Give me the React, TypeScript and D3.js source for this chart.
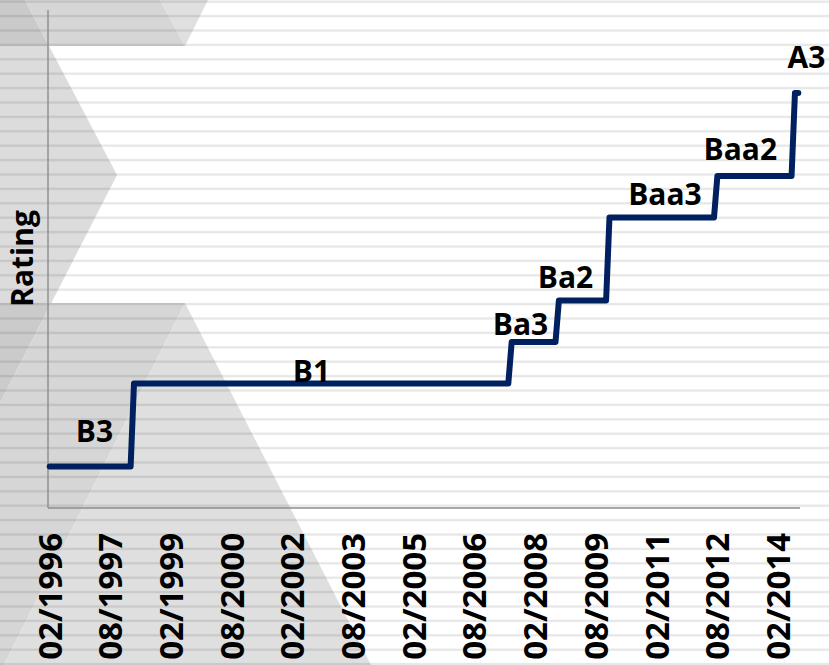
import React from "react";
import * as d3 from "d3";

const WIDTH = 829;
const HEIGHT = 665;

// Moody's long-term scale, lowest notch first
const ratingScale = ["B3", "B2", "B1", "Ba3", "Ba2", "Ba1", "Baa3", "Baa2", "Baa1", "A3"];

// Rating actions: month each rating took effect
const actionMonths = ["02/1996", "03/1998", "07/2007", "09/2008", "12/2009", "08/2012", "07/2014"];
const actionRatings = ["B3", "B1", "Ba3", "Ba2", "Baa3", "Baa2", "A3"];

const firstMonth = "02/1996";
const lastMonth = "08/2014";

const tickLabels = [
  "02/1996", "08/1997", "02/1999", "08/2000", "02/2002", "08/2003", "02/2005",
  "08/2006", "02/2008", "08/2009", "02/2011", "08/2012", "02/2014",
];

// Label placement relative to the first point of each rating level (px)
const labelOffsets: [number, number][] = [
  [44.8, -24.5], [177.5, -1.5], [8.8, -7], [6.6, -12.5], [55.5, -12.5], [23, -16], [11.5, -25],
];

const parseMonth = d3.timeParse("%m/%Y");
const fmtMonth = d3.timeFormat("%m/%Y");

const months = d3
  .timeMonth.range(parseMonth(firstMonth)!, d3.timeMonth.offset(parseMonth(lastMonth)!, 1))
  .map((d) => fmtMonth(d));

const notchOf = (r: string) => ratingScale.indexOf(r) + 1;

// Monthly series: each month carries the rating in force at that time
const series = months.map((m) => {
  const t = parseMonth(m)!.getTime();
  let r = actionRatings[0];
  actionMonths.forEach((am, i) => {
    if (parseMonth(am)!.getTime() <= t) r = actionRatings[i];
  });
  return { month: m, notch: notchOf(r) };
});

const plot = { left: 48, right: 800, top: 10, bottom: 508 };

const x = d3.scaleBand<string>().domain(months).range([plot.left, plot.right]).padding(0);
const xc = (m: string) => (x(m) ?? 0) + x.bandwidth() / 2;
const y = d3.scaleLinear().domain([0, 12]).range([plot.bottom, plot.top]);

const linePath = d3
  .line<{ month: string; notch: number }>()
  .x((d) => xc(d.month))
  .y((d) => y(d.notch))(series) as string;

const FONT = "'Open Sans', 'DejaVu Sans', sans-serif";

// Decorative backdrop: flat grey facets with thin horizontal rules
const facets: { pts: [number, number][]; fill: string }[] = [
  { pts: [[0, 46], [49, 46], [117, 175], [51.3, 303], [0, 303]], fill: "#dcdcdc" },
  { pts: [[0, 0], [25, 0], [49, 46], [0, 46]], fill: "#cacaca" },
  { pts: [[25, 0], [160, 0], [185, 46], [49, 46]], fill: "#d6d6d6" },
  { pts: [[160, 0], [208, 0], [185, 46]], fill: "#e0e0e0" },
  { pts: [[0, 303], [51.3, 303], [0, 403]], fill: "#cbcbcb" },
  { pts: [[51.3, 303], [185, 303], [4, 665], [0, 665], [0, 403]], fill: "#d6d6d6" },
  { pts: [[185, 303], [371, 665], [4, 665]], fill: "#dfdfdf" },
];

const rules = d3.range(0, 47).map((k) => 1.7 + k * 14.4);

export default function App() {
  return (
    <svg
      width={WIDTH}
      height={HEIGHT}
      viewBox={`0 0 ${WIDTH} ${HEIGHT}`}
      style={{ position: "fixed", left: 0, top: 0, display: "block" }}
    >
      <rect x={0} y={0} width={WIDTH} height={HEIGHT} fill="#ffffff" />
      {facets.map((f, i) => (
        <polygon key={i} points={f.pts.map((p) => p.join(",")).join(" ")} fill={f.fill} />
      ))}
      {rules.map((ry, i) => (
        <rect key={i} x={0} y={ry - 1.2} width={WIDTH} height={2.4} fill="rgba(0,0,0,0.09)" />
      ))}

      {/* axes */}
      <line x1={plot.left} x2={plot.left} y1={plot.top} y2={plot.bottom} stroke="#8c8c8c" strokeWidth={1.4} />
      <line x1={plot.left} x2={plot.right} y1={plot.bottom} y2={plot.bottom} stroke="#8c8c8c" strokeWidth={1.4} />

      {/* category labels */}
      {tickLabels.map((t) => (
        <text
          key={t}
          transform={`translate(${xc(t)},533) rotate(-90)`}
          dy="0.36em"
          textAnchor="end"
          fontFamily={FONT}
          fontWeight={700}
          fontSize={33}
          fill="#000"
        >
          {t}
        </text>
      ))}

      <text
        transform="translate(33.3,258.5) rotate(-90)"
        textAnchor="middle"
        fontFamily={FONT}
        fontWeight={700}
        fontSize={30}
        fill="#000"
      >
        Rating
      </text>

      <path
        d={linePath}
        fill="none"
        stroke="#002060"
        strokeWidth={6}
        strokeLinejoin="round"
        strokeLinecap="round"
      />

      {actionRatings.map((r, i) => (
        <text
          key={r}
          x={xc(actionMonths[i]) + labelOffsets[i][0]}
          y={y(notchOf(r)) + labelOffsets[i][1]}
          textAnchor="middle"
          fontFamily={FONT}
          fontWeight={700}
          fontSize={30}
          fill="#000"
        >
          {r}
        </text>
      ))}
    </svg>
  );
}
